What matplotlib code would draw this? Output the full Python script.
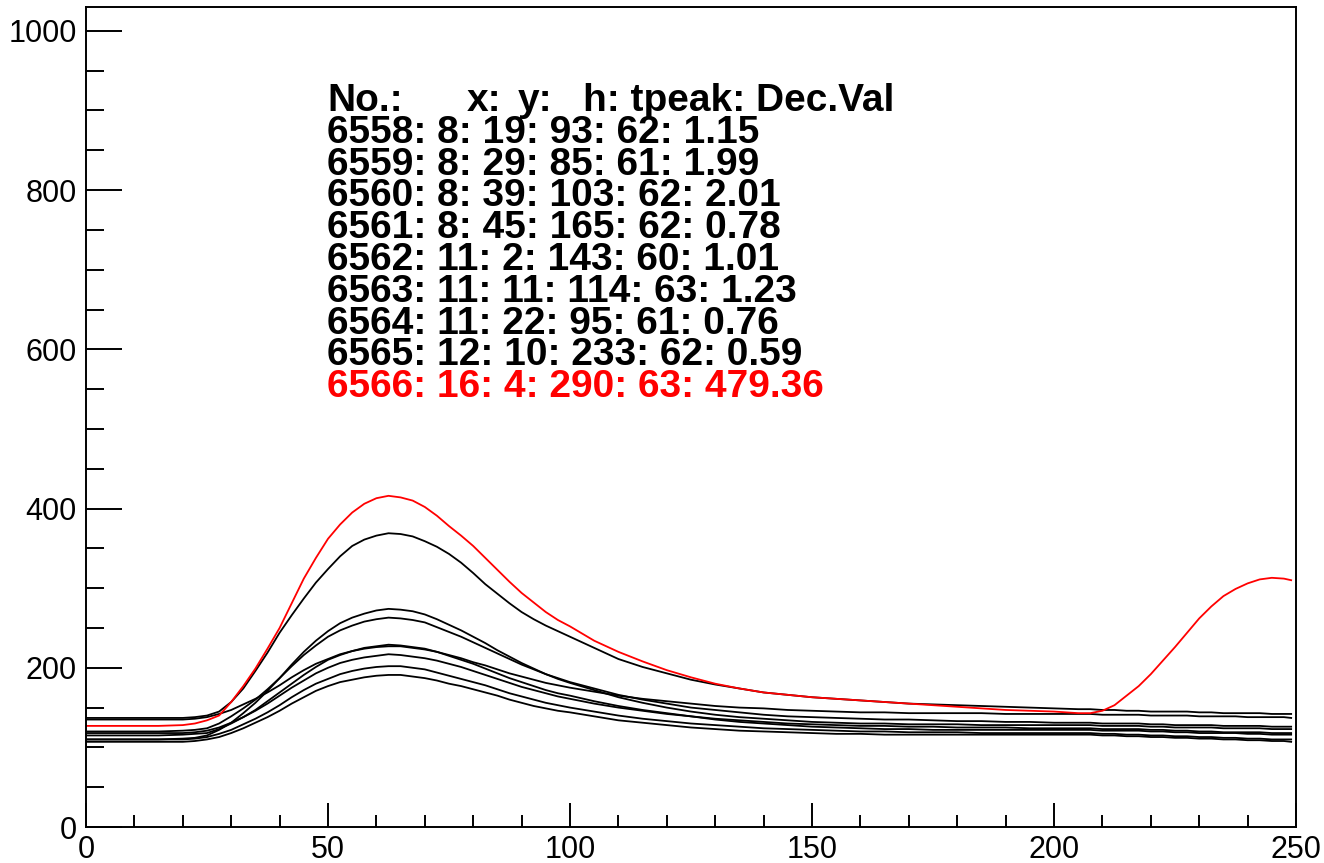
import matplotlib
matplotlib.use("Agg")
import matplotlib.pyplot as plt
from matplotlib.ticker import MultipleLocator

# ---------------- data ----------------
x_samples = [0, 5, 10, 15, 20,
             22.5, 25, 27.5, 30, 32.5, 35, 37.5, 40, 42.5, 45, 47.5, 50, 52.5, 55, 57.5,
             60, 62.5, 65, 67.5, 70, 72.5, 75, 77.5, 80, 82.5, 85, 87.5, 90, 92.5, 95, 97.5, 100,
             105, 110, 115, 120, 125, 130, 135, 140, 145, 150, 155, 160, 165, 170, 175,
             180, 185, 190, 195, 200, 205,
             207.5, 210, 212.5, 215, 217.5, 220, 222.5, 225, 227.5, 230, 232.5, 235, 237.5,
             240, 242.5, 245, 247.5, 249]

trace_6558 = [110, 110, 110, 110, 110,
              111, 113, 117, 122, 129, 136, 144, 153, 163, 172, 180, 186, 192, 196, 199,
              201, 202, 202, 200, 198, 194, 190, 186, 182, 178, 173, 168, 164, 160, 156, 153, 150,
              145, 140, 136, 133, 130, 128, 126, 124, 123, 122, 121, 120, 120, 119, 119,
              119, 118, 118, 118, 118, 118,
              118, 117, 117, 116, 116, 115, 115, 114, 114, 113, 113, 112, 112,
              111, 111, 110, 110, 110]
trace_6559 = [107, 107, 107, 107, 107,
              108, 110, 113, 118, 124, 131, 138, 146, 155, 163, 171, 177, 182, 185, 188,
              190, 191, 191, 189, 187, 184, 180, 177, 173, 169, 165, 160, 156, 152, 149, 146, 144,
              139, 134, 131, 128, 125, 123, 121, 120, 119, 118, 117, 117, 116, 116, 116,
              116, 116, 116, 116, 116, 116,
              116, 115, 115, 114, 114, 113, 113, 112, 112, 111, 111, 110, 110,
              109, 109, 108, 108, 107]
trace_6560 = [135, 135, 135, 135, 135,
              136, 138, 142, 147, 154, 161, 169, 178, 188, 197, 205, 211, 217, 221, 224,
              226, 227, 227, 225, 223, 220, 216, 212, 207, 203, 198, 193, 189, 185, 181, 178, 175,
              170, 165, 161, 158, 155, 152, 150, 149, 147, 146, 145, 144, 144, 143, 143,
              143, 143, 142, 142, 142, 142,
              142, 141, 141, 141, 141, 140, 140, 140, 140, 139, 139, 139, 139,
              138, 138, 138, 138, 137]
trace_6561 = [110, 110, 110, 110, 111,
              112, 115, 122, 131, 143, 156, 171, 187, 204, 220, 234, 246, 256, 263, 268,
              272, 274, 273, 271, 267, 261, 254, 247, 239, 231, 222, 214, 206, 199, 192, 186, 181,
              172, 163, 156, 150, 145, 141, 138, 136, 134, 132, 131, 130, 130, 129, 129,
              129, 128, 128, 128, 128, 128,
              128, 127, 127, 127, 127, 126, 126, 125, 125, 125, 125, 124, 124,
              124, 124, 123, 123, 123]
trace_6562 = [120, 120, 120, 120, 121,
              122, 124, 130, 139, 149, 160, 173, 187, 202, 216, 228, 239, 247, 253, 258,
              261, 263, 262, 260, 257, 251, 245, 239, 232, 225, 218, 211, 204, 198, 192, 187, 182,
              174, 166, 160, 155, 150, 147, 144, 141, 139, 138, 137, 136, 135, 135, 134,
              133, 133, 132, 132, 131, 131,
              131, 130, 130, 130, 130, 129, 129, 128, 128, 128, 128, 127, 127,
              127, 127, 126, 126, 126]
trace_6563 = [115, 115, 115, 115, 116,
              117, 118, 123, 130, 138, 147, 158, 169, 180, 191, 201, 210, 216, 221, 225,
              227, 229, 228, 226, 224, 220, 215, 210, 205, 199, 193, 187, 182, 177, 172, 168, 165,
              158, 152, 147, 143, 139, 136, 134, 132, 130, 129, 128, 127, 127, 126, 126,
              125, 125, 125, 124, 124, 124,
              124, 123, 123, 123, 123, 122, 122, 121, 121, 120, 120, 119, 119,
              119, 119, 118, 118, 118]
trace_6564 = [118, 118, 118, 118, 118,
              119, 121, 125, 131, 138, 146, 155, 165, 175, 184, 193, 200, 206, 210, 213,
              215, 217, 216, 214, 212, 209, 205, 201, 196, 191, 186, 181, 176, 172, 168, 164, 161,
              155, 150, 146, 142, 139, 135, 132, 130, 128, 126, 125, 124, 123, 123, 122,
              122, 122, 122, 122, 122, 122,
              122, 121, 121, 121, 121, 120, 120, 119, 119, 118, 118, 118, 118,
              117, 117, 116, 116, 116]
trace_6565 = [137, 137, 137, 137, 137,
              138, 140, 145, 157, 174, 196, 219, 244, 266, 287, 307, 324, 340, 353, 361,
              366, 369, 368, 365, 359, 352, 343, 332, 319, 305, 293, 281, 270, 261, 253, 246, 239,
              225, 211, 201, 193, 185, 179, 174, 169, 166, 163, 161, 159, 157, 155, 154,
              153, 152, 151, 150, 149, 148,
              148, 147, 147, 146, 146, 145, 145, 145, 145, 144, 144, 143, 143,
              143, 143, 142, 142, 142]
trace_6566 = [127, 127, 127, 127, 128,
              130, 134, 140, 157, 177, 199, 224, 250, 281, 312, 338, 362, 380, 395, 406,
              413, 416, 414, 410, 402, 391, 378, 366, 353, 338, 323, 308, 294, 282, 270, 260, 252,
              234, 220, 208, 197, 188, 180, 174, 169, 166, 163, 161, 159, 157, 155, 153,
              151, 149, 147, 146, 145, 143,
              143, 146, 153, 165, 177, 192, 209, 226, 244, 262, 277, 290, 299,
              306, 311, 313, 312, 310]

black_traces = [trace_6558, trace_6559, trace_6560, trace_6561,
                trace_6562, trace_6563, trace_6564, trace_6565]
red_trace = trace_6566

# table text
row_no = [6558, 6559, 6560, 6561, 6562, 6563, 6564, 6565, 6566]
row_x = [8, 8, 8, 8, 11, 11, 11, 12, 16]
row_y = [19, 29, 39, 45, 2, 11, 22, 10, 4]
row_h = [93, 85, 103, 165, 143, 114, 95, 233, 290]
row_tpeak = [62, 61, 62, 62, 60, 63, 61, 62, 63]
row_decval = ["1.15", "1.99", "2.01", "0.78", "1.01", "1.23", "0.76", "0.59", "479.36"]
row_color = ["black"] * 8 + ["#ff0000"]

x_ticks = [0, 50, 100, 150, 200, 250]
y_ticks = [0, 200, 400, 600, 800, 1000]

# ---------------- figure ----------------
W, H = 1324, 863
fig = plt.figure(figsize=(W / 100, H / 100), dpi=100)
fig.patch.set_facecolor("white")
ax = fig.add_axes([86 / W, (H - 827) / H, 1210 / W, 820 / H])

for tr in black_traces:
    ax.plot(x_samples, tr, color="black", lw=1.3, solid_joinstyle="round")
ax.plot(x_samples, red_trace, color="#ff0000", lw=1.3, solid_joinstyle="round")

ax.set_xlim(0, 250)
ax.set_ylim(0, 1030)
ax.set_xticks(x_ticks)
ax.set_yticks(y_ticks)
ax.xaxis.set_minor_locator(MultipleLocator(10))
ax.yaxis.set_minor_locator(MultipleLocator(50))

for s in ax.spines.values():
    s.set_linewidth(1.4)
    s.set_color("black")

ax.tick_params(axis="y", which="major", direction="in", length=26, width=1.4,
               labelsize=22, pad=6.5, right=False)
ax.tick_params(axis="y", which="minor", direction="in", length=13, width=1.4, right=False)
ax.tick_params(axis="x", which="major", direction="in", length=17.5, width=1.4,
               labelsize=22, pad=5.5, top=False)
ax.tick_params(axis="x", which="minor", direction="in", length=8.7, width=1.4, top=False)
for lab in ax.get_xticklabels() + ax.get_yticklabels():
    lab.set_fontfamily("Liberation Sans")

# ---------------- text table ----------------
def fx(px):
    return px / W

def fy(py):
    return 1 - py / H

tfont = dict(family="Liberation Sans", weight="bold", fontsize=28, va="baseline", ha="left")
base0 = 111
step = 31.8
fig.text(fx(327), fy(base0), "No.:", color="black", **tfont)
fig.text(fx(467), fy(base0), "x:", color="black", **tfont)
fig.text(fx(518), fy(base0), "y:", color="black", **tfont)
fig.text(fx(583), fy(base0), "h: tpeak: Dec.Val", color="black", **tfont)

for i in range(len(row_no)):
    s = f"{row_no[i]}: {row_x[i]}: {row_y[i]}: {row_h[i]}: {row_tpeak[i]}: {row_decval[i]}"
    fig.text(fx(327), fy(base0 + step * (i + 1)), s, color=row_color[i], **tfont)

fig.savefig("out.png", dpi=100, facecolor="white")
